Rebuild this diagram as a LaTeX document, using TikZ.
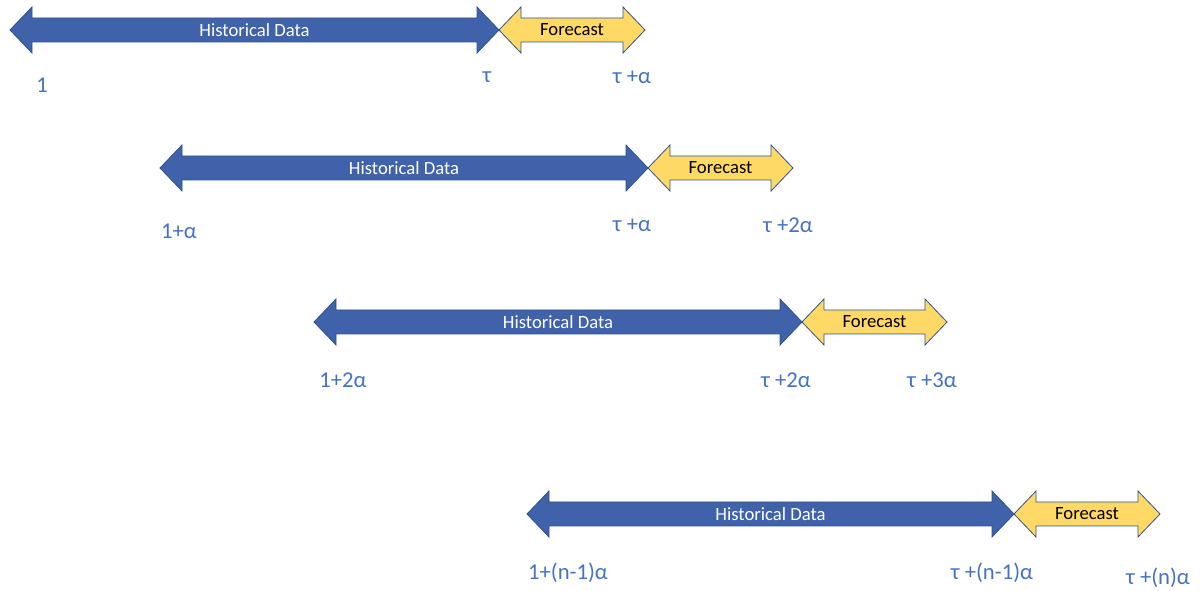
\documentclass[tikz,border=0pt]{standalone}
\usepackage{fontspec}
\setmainfont{Carlito}
\definecolor{histblue}{RGB}{63,98,171}
\definecolor{edgeblue}{RGB}{47,82,143}
\definecolor{fcyellow}{RGB}{255,217,102}
\definecolor{labelblue}{RGB}{68,114,196}
\begin{document}
\begin{tikzpicture}[x=0.75pt, y=-0.75pt,
          hist/.style={fill=histblue, draw=edgeblue, line width=0.6pt},
          fcast/.style={fill=fcyellow, draw=edgeblue, line width=0.6pt},
          intext/.style={font=\fontsize{14}{16}\selectfont, inner sep=0pt},
          timelabel/.style={text=labelblue, font=\fontsize{17}{20}\selectfont, inner sep=0pt}]
\useasboundingbox (0,0) rectangle (1204,591);
\foreach \i/\a/\b/\c/\y in {1/10/499/645/30, 2/160/648/793/168, 3/314/802/947/322, 4/527/1014/1160/514}{
  \filldraw[hist] (\a,\y) -- (\a+22,\y-23) -- (\a+22,\y-12) -- (\b-22,\y-12) -- (\b-22,\y-23) -- (\b,\y)
    -- (\b-22,\y+23) -- (\b-22,\y+12) -- (\a+22,\y+12) -- (\a+22,\y+23) -- cycle;
  \filldraw[fcast] (\b,\y) -- (\b+22,\y-23) -- (\b+22,\y-12) -- (\c-22,\y-12) -- (\c-22,\y-23) -- (\c,\y)
    -- (\c-22,\y+23) -- (\c-22,\y+12) -- (\b+22,\y+12) -- (\b+22,\y+23) -- cycle;
  \node[intext, text=white] (hist\i) at ({(\a+\b)/2},\y) {Historical Data};
  \node[intext] (fc\i) at ({(\b+\c)/2},\y) {Forecast};
}
\node[timelabel] (start1) at (42,85) {1};
\node[timelabel] (tau1) at (487,77) {τ};
\node[timelabel] (end1) at (632,77) {τ +α};
\node[timelabel] (start2) at (179,231) {1+α};
\node[timelabel] (tau2) at (632,225) {τ +α};
\node[timelabel] (end2) at (788,225) {τ +2α};
\node[timelabel] (start3) at (343,380) {1+2α};
\node[timelabel] (tau3) at (786,380) {τ +2α};
\node[timelabel] (end3) at (932,380) {τ +3α};
\node[timelabel] (start4) at (568,573) {1+(n-1)α};
\node[timelabel] (tau4) at (992,573) {τ +(n-1)α};
\node[timelabel] (end4) at (1158,578) {τ +(n)α};
\end{tikzpicture}
\end{document}
